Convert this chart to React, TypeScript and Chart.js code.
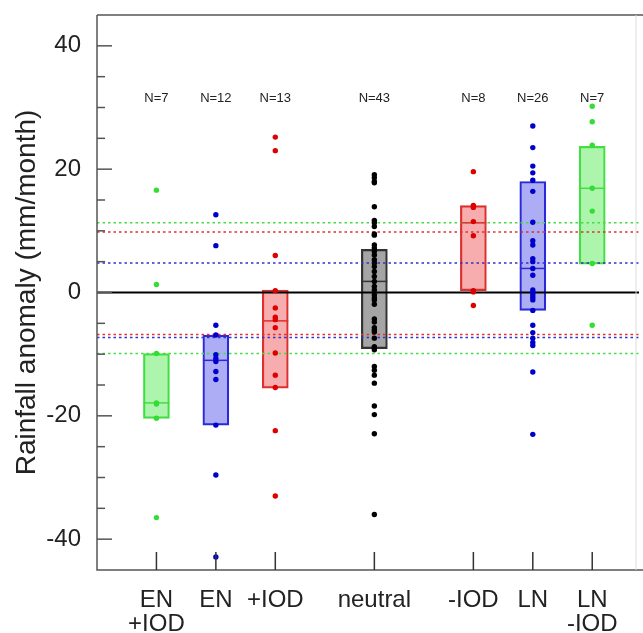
import React, { useEffect, useRef } from "react";
import { Chart, registerables } from "chart.js";

Chart.register(...registerables);

const categories: string[][] = [["EN", "+IOD"], ["EN"], ["+IOD"], ["neutral"], ["-IOD"], ["LN"], ["LN", "-IOD"]];
const positions = [1, 2, 3, 4.667, 6.333, 7.333, 8.333];
const nLabels = ["N=7", "N=12", "N=13", "N=43", "N=8", "N=26", "N=7"];

const boxHigh = [-9.9, -6.9, 0.4, 7.0, 14.1, 18.0, 23.7];
const boxLow = [-20.4, -21.5, -15.5, -9.1, 0.3, -2.9, 4.6];
const medians = [-17.9, -11.0, -4.6, 1.8, 11.3, 3.9, 16.9];

const ptsENIOD = [16.6, 1.3, -9.9, -17.9, -18.1, -20.4, -36.5];
const ptsEN = [12.6, 7.6, -5.3, -6.9, -10.1, -10.7, -11.2, -12.8, -14.1, -21.5, -29.6, -42.9];
const ptsPIOD = [25.2, 23.0, 6.0, 0.3, -2.5, -4.0, -4.4, -5.7, -9.8, -13.4, -15.4, -22.4, -33.0];
const ptsNeutral = [19.1, 18.6, 18.0, 17.8, 13.9, 11.7, 11.3, 10.7, 9.5, 9.3, 7.7, 7.2, 6.7, 6.1, 5.3, 4.8, 4.2, 3.4, 2.6, 1.8, 1.0, 0.4, -0.4, -0.9, -1.2, -1.9, -4.3, -4.8, -5.7, -6.1, -6.4, -7.4, -8.8, -9.0, -9.3, -12.0, -12.6, -13.4, -14.7, -18.4, -19.8, -22.9, -36.0];
const ptsNIOD = [19.6, 14.1, 13.8, 11.5, 9.2, 0.3, 0.1, -2.1];
const ptsLN = [27.0, 23.5, 20.5, 19.4, 18.2, 16.4, 11.4, 8.4, 7.7, 5.5, 5.0, 3.9, 2.8, 0.4, 0.0, -0.4, -0.8, -1.2, -2.9, -5.3, -6.5, -7.4, -8.1, -8.6, -12.9, -23.0];
const ptsLNIOD = [30.2, 27.7, 23.9, 16.9, 13.2, 4.7, -5.3];
const allPoints = [ptsENIOD, ptsEN, ptsPIOD, ptsNeutral, ptsNIOD, ptsLN, ptsLNIOD];

// reference lines: value & colour group
const refLineValues = [11.3, 9.8, 4.8, -6.8, -7.3, -9.9];
const refLineGroups = ["g", "r", "b", "r", "b", "g"];

const yTickValues = [-40, -20, 0, 20, 40];

const X_MAX = 9.12;
const Y_MIN = -45;
const Y_MAX = 45;

const groupOfCat = ["g", "b", "r", "k", "r", "b", "g"];
const pointColor: Record<string, string> = { g: "#33dd33", b: "#0000cc", r: "#dd0000", k: "#000000" };
const borderColor: Record<string, string> = { g: "#44dd44", b: "#2a2ad8", r: "#dd3030", k: "#333333" };
const fillColor: Record<string, string> = {
  g: "rgba(60,230,60,0.42)",
  b: "rgba(40,40,230,0.38)",
  r: "rgba(235,40,40,0.38)",
  k: "rgba(40,40,40,0.42)",
};
const dashColor: Record<string, string> = { g: "#44dd44", r: "#dd3333", b: "#3333cc" };

const FONT = "'Liberation Sans', Arial, Helvetica, sans-serif";
const HALF = 0.218;

const framePlugin = {
  id: "frame",
  afterDatasetsDraw(chart: any) {
    const { ctx, chartArea, scales } = chart;
    const y = scales.y;
    const x = scales.x;
    ctx.save();
    ctx.strokeStyle = "#555";
    ctx.lineWidth = 1.5;
    ctx.beginPath();
    ctx.moveTo(chartArea.left, chartArea.top);
    ctx.lineTo(chart.width, chartArea.top);
    ctx.moveTo(chartArea.left, chartArea.top);
    ctx.lineTo(chartArea.left, chartArea.bottom);
    ctx.lineTo(chart.width, chartArea.bottom);
    ctx.stroke();
    ctx.strokeStyle = "#ddd";
    ctx.lineWidth = 1;
    ctx.beginPath();
    const rx = x.getPixelForValue(9.07);
    ctx.moveTo(rx, chartArea.top);
    ctx.lineTo(rx, chartArea.bottom);
    ctx.stroke();
    ctx.strokeStyle = "#555";
    ctx.lineWidth = 1.5;
    for (let v = -40; v <= 40; v += 5) {
      const py = y.getPixelForValue(v);
      const len = v % 20 === 0 ? 15 : 8;
      ctx.beginPath();
      ctx.moveTo(chartArea.left, py);
      ctx.lineTo(chartArea.left + len, py);
      ctx.stroke();
    }
    ctx.strokeStyle = "#333";
    positions.forEach((p) => {
      const px = x.getPixelForValue(p);
      ctx.beginPath();
      ctx.moveTo(px, chartArea.bottom);
      ctx.lineTo(px, chartArea.bottom - 18);
      ctx.stroke();
    });
    ctx.fillStyle = "#222";
    ctx.font = `13px ${FONT}`;
    ctx.textAlign = "center";
    ctx.textBaseline = "middle";
    nLabels.forEach((t, i) => {
      ctx.fillText(t, x.getPixelForValue(positions[i]), y.getPixelForValue(31.5));
    });
    ctx.restore();
  },
};

export default function App() {
  const ref = useRef<HTMLCanvasElement | null>(null);
  useEffect(() => {
    document.body.style.margin = "0";
    const canvas = ref.current;
    if (!canvas) return;

    const datasets: any[] = [];
    allPoints.forEach((arr, i) => {
      datasets.push({
        type: "scatter",
        data: arr.map((v) => ({ x: positions[i], y: v })),
        pointRadius: 2.7,
        pointBorderWidth: 0,
        pointBackgroundColor: pointColor[groupOfCat[i]],
        order: 0,
      });
    });
    medians.forEach((m, i) => {
      datasets.push({
        type: "line",
        data: [
          { x: positions[i] - HALF, y: m },
          { x: positions[i] + HALF, y: m },
        ],
        borderColor: borderColor[groupOfCat[i]],
        borderWidth: 1.5,
        pointRadius: 0,
        order: 1,
      });
    });
    datasets.push({
      type: "line",
      data: [
        { x: 0, y: 0 },
        { x: X_MAX, y: 0 },
      ],
      borderColor: "#000",
      borderWidth: 2,
      pointRadius: 0,
      order: 2,
    });
    refLineValues.forEach((v, i) => {
      datasets.push({
        type: "line",
        data: [
          { x: 0, y: v },
          { x: X_MAX, y: v },
        ],
        borderColor: dashColor[refLineGroups[i]],
        borderWidth: 1.5,
        borderDash: [2.5, 3],
        pointRadius: 0,
        order: 3,
      });
    });
    datasets.push({
      type: "bar",
      data: positions.map((p, i) => ({ x: p, y: [boxLow[i], boxHigh[i]] })),
      backgroundColor: groupOfCat.map((g) => fillColor[g]),
      borderColor: groupOfCat.map((g) => borderColor[g]),
      borderWidth: 1.5,
      borderSkipped: false,
      barThickness: 26,
      order: 4,
    });

    const chart = new Chart(canvas, {
      type: "bar",
      data: { datasets },
      plugins: [framePlugin],
      options: {
        animation: false,
        responsive: false,
        maintainAspectRatio: false,
        layout: { padding: { top: 15, right: 2, left: 0, bottom: 0 } },
        plugins: { legend: { display: false }, tooltip: { enabled: false } },
        scales: {
          x: {
            type: "linear",
            offset: false,
            min: 0,
            max: X_MAX,
            grid: { display: false },
            border: { display: false },
            afterBuildTicks: (scale: any) => {
              scale.ticks = positions.map((p) => ({ value: p }));
            },
            afterFit: (scale: any) => {
              scale.height = 63;
              scale.paddingLeft = 0;
              scale.paddingRight = 0;
            },
            ticks: {
              autoSkip: false,
              maxRotation: 0,
              padding: 10,
              color: "#222",
              font: { size: 24, family: FONT, lineHeight: 1.0 },
              callback: (_v: any, idx: number) => categories[idx],
            },
          },
          y: {
            type: "linear",
            min: Y_MIN,
            max: Y_MAX,
            grid: { display: false },
            border: { display: false },
            afterBuildTicks: (scale: any) => {
              scale.ticks = yTickValues.map((v) => ({ value: v }));
            },
            afterFit: (scale: any) => {
              scale.width = 97;
              scale.paddingTop = 0;
              scale.paddingBottom = 0;
            },
            ticks: {
              autoSkip: false,
              padding: 8,
              color: "#222",
              font: { size: 24, family: FONT },
              callback: (v: any) => String(v),
            },
            title: {
              display: true,
              text: "Rainfall anomaly (mm/month)",
              color: "#222",
              font: { size: 28, family: FONT },
              padding: { top: 10, bottom: 0 },
            },
          },
        },
      },
    });
    return () => chart.destroy();
  }, []);
  return (
    <div style={{ width: 643, height: 633 }}>
      <canvas ref={ref} width={643} height={633} style={{ display: "block", width: 643, height: 633 }} />
    </div>
  );
}
